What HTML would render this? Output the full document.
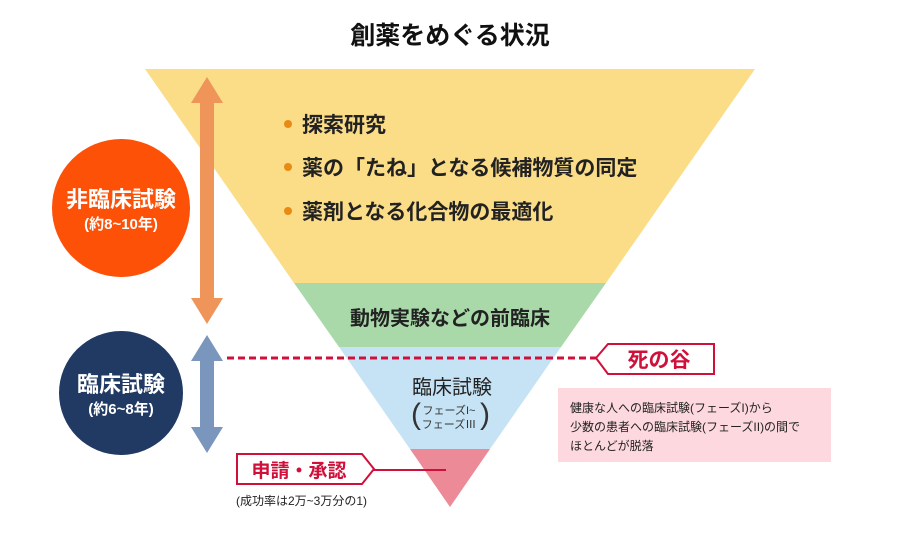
<!DOCTYPE html>
<html><head><meta charset="utf-8"><style>
body{margin:0;background:#fff;}
svg text{font-family:"Liberation Sans","Noto Sans CJK JP",sans-serif;}
</style></head><body>
<svg width="900" height="537" viewBox="0 0 900 537" xmlns="http://www.w3.org/2000/svg">
<text x="450" y="44" font-size="25" font-weight="bold" text-anchor="middle" fill="#111">創薬をめぐる状況</text>
<polygon points="145,69 755,69 606,283 294,283" fill="#fbdc87"/>
<polygon points="294,283 606,283 561,347 339,347" fill="#a9d9a9"/>
<polygon points="339,347 561,347 490,449 410,449" fill="#c6e3f5"/>
<polygon points="410,449 490,449 450,507" fill="#ec8a97"/>
<g fill="#e98a14"><circle cx="288" cy="124" r="4"/><circle cx="288" cy="167" r="4"/><circle cx="288" cy="211" r="4"/></g>
<g font-size="21" font-weight="bold" fill="#222">
<text x="302" y="132">探索研究</text>
<text x="302" y="175">薬の「たね」となる候補物質の同定</text>
<text x="302" y="219">薬剤となる化合物の最適化</text>
</g>
<text x="450" y="325" font-size="20" font-weight="bold" text-anchor="middle" fill="#222">動物実験などの前臨床</text>
<text x="452" y="394" font-size="20" text-anchor="middle" fill="#222">臨床試験</text>
<text x="411" y="424" font-size="30" font-weight="lighter" fill="#333" transform="scale(1,1)">(</text>
<text x="480" y="424" font-size="30" fill="#333">)</text>
<text x="449" y="414" font-size="11" text-anchor="middle" fill="#333">フェーズI~</text>
<text x="449" y="428" font-size="11" text-anchor="middle" fill="#333">フェーズⅢ</text>
<!-- arrows -->
<polygon points="207,77 223,103 214,103 214,298 223,298 207,324 191,298 200,298 200,103 191,103" fill="#ef955a"/>
<polygon points="207,335 223,361 214,361 214,427 223,427 207,453 191,427 200,427 200,361 191,361" fill="#7b96bd"/>
<circle cx="121" cy="208" r="69" fill="#fc5107"/>
<text x="121" y="207" font-size="22" font-weight="bold" text-anchor="middle" fill="#fff">非臨床試験</text>
<text x="121" y="229" font-size="15" font-weight="bold" text-anchor="middle" fill="#fff">(約8~10年)</text>
<circle cx="121" cy="393" r="62" fill="#213a64"/>
<text x="121" y="392" font-size="22" font-weight="bold" text-anchor="middle" fill="#fff">臨床試験</text>
<text x="121" y="414" font-size="15" font-weight="bold" text-anchor="middle" fill="#fff">(約6~8年)</text>
<line x1="227" y1="358" x2="596" y2="358" stroke="#d0103a" stroke-width="3" stroke-dasharray="7,4"/>
<polygon points="596,358 608,344 714,344 714,374 608,374" fill="#fff" stroke="#d0103a" stroke-width="2"/>
<text x="659" y="367" font-size="21" font-weight="bold" text-anchor="middle" fill="#d0103a">死の谷</text>
<rect x="558" y="388" width="273" height="74" fill="#fdd9df"/>
<g font-size="12" fill="#222">
<text x="570" y="412">健康な人への臨床試験(フェーズI)から</text>
<text x="570" y="431">少数の患者への臨床試験(フェーズII)の間で</text>
<text x="570" y="450">ほとんどが脱落</text>
</g>
<line x1="363" y1="470" x2="446" y2="470" stroke="#d0103a" stroke-width="2"/>
<polygon points="237,454 362,454 374,469 362,484 237,484" fill="#fff" stroke="#d0103a" stroke-width="2"/>
<text x="299" y="477" font-size="19" font-weight="bold" text-anchor="middle" fill="#d0103a">申請・承認</text>
<text x="236" y="505" font-size="12" fill="#222">(成功率は2万~3万分の1)</text>
</svg>
</body></html>
